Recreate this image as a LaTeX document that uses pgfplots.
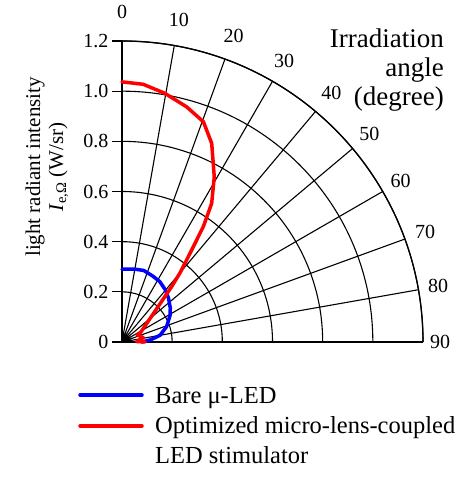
\documentclass[border=0pt]{standalone}
\usepackage{fontspec}
\setmainfont{Liberation Serif}
\usepackage{pgfplots}
\pgfplotsset{compat=1.18}
\usepgfplotslibrary{polar}

\definecolor{cblue}{RGB}{0,0,255}
\definecolor{cred}{RGB}{255,0,0}

\begin{document}
\begin{tikzpicture}
\begin{polaraxis}[
  scale only axis, width=602pt, height=602pt,
  xmin=0, xmax=90, ymin=0, ymax=1.2,
  xtick={0,10,...,90},
  xticklabels={},
  ytick={0.2,0.4,0.6,0.8,1.0,1.2},
  yticklabels={},
  grid=major,
  major grid style={black, line width=1.1pt},
  axis line style={black, line width=1.3pt},
  major tick length=0pt,
  clip=false,
  % angles in the file are measured from the vertical, as in the chart
  x filter/.expression={90-x},
]
  % bare micro-LED
  \addplot[cblue, line width=3.5pt, line join=round, line cap=round] coordinates {
    (0,0.290) (10,0.295) (17,0.298) (25,0.290) (32,0.284) (40,0.270)
    (47,0.254) (55,0.235) (61,0.219) (71,0.188) (80,0.154) (86,0.112) (90,0.078)
  };
  % optimized micro-lens-coupled stimulator
  \addplot[cred, line width=3.5pt, line join=round, line cap=round] coordinates {
    (0,1.037) (4.7,1.031) (9.8,1.006) (15.4,0.972) (20.3,0.936) (24.3,0.869)
    (29.2,0.754) (32.9,0.658) (35.2,0.562) (37.5,0.445) (40,0.360) (41.9,0.296)
    (62.6,0.084) (65.4,0.067) (78.6,0.087) (88,0.058) (90,0.092)
  };
  % angle labels (axis cs takes the polar angle, 90 = straight up)
  \begin{scope}[every node/.style={font=\fontsize{20}{20}\selectfont, inner sep=0pt}]
    \node at (axis cs:90,1.316) {0};
    \node at (axis cs:80,1.304) {10};
    \node at (axis cs:70,1.300) {20};
    \node at (axis cs:60,1.292) {30};
    \node at (axis cs:50,1.298) {40};
    \node at (axis cs:40,1.288) {50};
    \node at (axis cs:30,1.283) {60};
    \node at (axis cs:20,1.286) {70};
    \node at (axis cs:10,1.280) {80};
    \node at (axis cs:0,1.268) {90};
  \end{scope}
  \coordinate (O) at (axis cs:0,0);
\end{polaraxis}

% radial scale on the vertical edge
\foreach \r/\l in {0/0,0.2/0.2,0.4/0.4,0.6/0.6,0.8/0.8,1/1.0,1.2/1.2}
  \draw[line width=1.3pt] (O) ++(0,\r*250.83pt) -- ++(-10pt,0)
    node[left, inner sep=3pt, font=\fontsize{20}{20}\selectfont] {\l};

\path (O) ++(-75pt,175pt) node[rotate=90, align=center,
  font=\fontsize{21}{23}\selectfont]
  {light radiant intensity\\\textit{I}\textsubscript{e,Ω} (W/sr)};

\path (O) ++(322pt,313pt) node[anchor=north east, align=right, inner sep=0pt,
  font=\fontsize{27}{29}\selectfont] {Irradiation\\angle\\(degree)};

% legend
\draw[cblue, line width=3.5pt, line cap=round] (O) ++(-42pt,-53pt) -- ++(62pt,0);
\draw[cred, line width=3.5pt, line cap=round] (O) ++(-42pt,-84pt) -- ++(62pt,0);
\begin{scope}[every node/.style={anchor=base west, inner sep=0pt,
    font=\fontsize{24.5}{24.5}\selectfont}]
  \path (O) ++(33pt,-61pt) node {Bare μ-LED};
  \path (O) ++(33pt,-91pt) node {Optimized micro-lens-coupled};
  \path (O) ++(33pt,-121pt) node {LED stimulator};
\end{scope}

\path (O) ++(-122pt,-137pt) rectangle ++(469pt,479pt);
\end{tikzpicture}
\end{document}
